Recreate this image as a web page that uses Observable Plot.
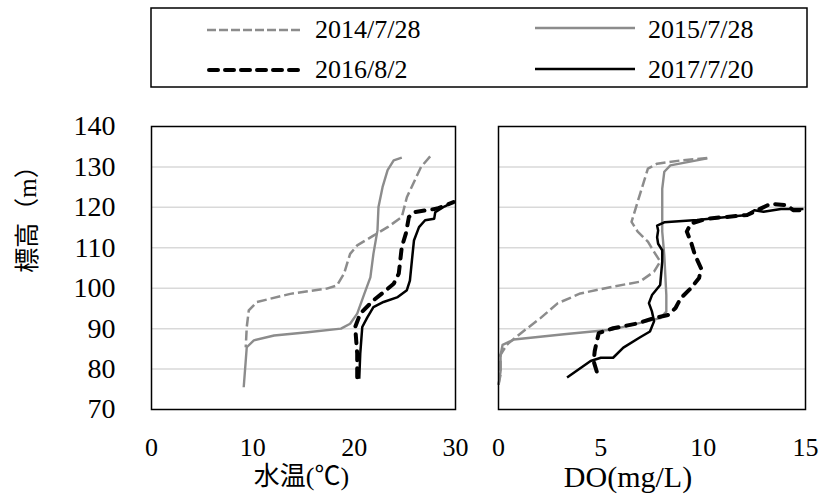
<!DOCTYPE html>
<html><head><meta charset="utf-8">
<script src="https://cdn.jsdelivr.net/npm/d3@7"></script>
<script src="https://cdn.jsdelivr.net/npm/@observablehq/plot@0.6"></script>
<style>
html,body{margin:0;padding:0;background:#fff;}
#wrap{position:relative;width:821px;height:500px;overflow:hidden;}
#legend{position:absolute;left:0;top:0;}
#left{position:absolute;left:0;top:100px;}
#right{position:absolute;left:470px;top:100px;}
svg{overflow:visible;}
#wrap svg, #wrap svg text, #wrap svg g {font-family:"Liberation Serif","Noto Sans CJK JP",serif !important;}
</style>
</head><body>
<div id="wrap"><div id="legend"></div><div id="left"></div><div id="right"></div></div>
<script>
// ---- data ----
const seriesLabels = ["2014/7/28", "2015/7/28", "2016/8/2", "2017/7/20"];
const yTicks = [70, 80, 90, 100, 110, 120, 130, 140];
const yGrid = [80, 90, 100, 110, 120, 130];
const tempTicks = [0, 10, 20, 30];
const doTicks = [0, 5, 10, 15];
const xTitleTemp = "水温(℃)";
const xTitleDO = "DO(mg/L)";
const yTitle = "標高（m）";

// water temperature [°C, elevation m]
const wt2014 = [[27.5,132.6],[26.6,130],[25.2,122.5],[24.7,117.6],[23.3,115.1],[21.9,113],[20.3,110.6],[19.6,108.5],[19.0,103.6],[18.3,100.7],[17.3,99.9],[13.7,98.6],[10.4,96.6],[9.6,94.5],[9.4,90.4],[9.3,85.4]];
const wt2015 = [[24.7,132.3],[23.9,131.6],[23.3,129.2],[22.8,125],[22.4,120.1],[22.3,114.3],[21.9,108.5],[21.6,102.7],[21.0,98.6],[20.3,93.7],[19.6,91.2],[18.7,90],[15.4,89.1],[12.1,88.3],[10.1,87.1],[9.4,85.4],[9.3,82.1],[9.1,75.5]];
const wt2016 = [[20.3,78],[20.3,83.8],[20.1,90.4],[20.6,93.7],[21.9,97],[22.9,99],[23.9,101.1],[24.4,103.6],[24.7,110.2],[25.1,113.5],[25.4,117.6],[25.9,118.8],[27.2,119.3],[28.2,119.7],[29.8,121.3]];
const wt2017 = [[20.5,77.6],[20.6,83.8],[20.8,90.4],[21.3,92.8],[21.9,95.3],[22.9,96.6],[24.3,97.8],[25.2,99.5],[25.5,101.9],[25.7,106.9],[25.9,111.8],[26.4,115.1],[27.0,116.8],[27.9,117.2],[28.0,118.8],[28.9,120.2],[29.8,121.3]];

// dissolved oxygen [mg/L, elevation m]
const do2014 = [[10.2,132.2],[8.9,131.6],[7.75,130.8],[7.3,129.6],[7.1,126.3],[6.8,121.4],[6.5,116.4],[6.8,114],[7.3,111.5],[7.6,109],[7.9,106.6],[7.6,104.1],[6.9,101.6],[5.6,100.4],[4.0,98.7],[2.9,96.3],[2.05,92.6],[1.2,89.3],[0.4,86],[0.1,83.5],[0.1,78.6],[0,76.1]];
const do2015 = [[10.2,132.1],[8.4,130.4],[8.1,128.8],[8.0,124.6],[8.0,119.7],[8.0,114],[8.1,108.2],[8.15,103.3],[8.2,98.3],[8.2,94.2],[7.9,92.6],[5.6,89.8],[3.2,88.6],[0.75,87.3],[0.2,86],[0.1,83.5],[0.1,79.4],[0,76.1]];
const do2016 = [[4.8,79.4],[4.65,81.9],[4.7,84.4],[4.8,86.8],[4.9,88.9],[5.6,90.1],[6.8,91.3],[7.6,92.6],[8.3,93.4],[8.65,95.1],[8.9,97.5],[9.4,100],[9.8,102.5],[9.9,104.9],[9.6,108.2],[9.4,111.5],[9.2,114],[9.4,116],[10.2,117.2],[12.15,118.1],[13.3,120.9],[14.1,120.5],[14.4,119.3],[14.9,119.3]];
const do2017 = [[3.35,77.9],[4.5,82],[5.0,82.8],[5.6,82.8],[6.1,85.3],[6.9,87.8],[7.4,89.3],[7.6,91.8],[7.5,94.2],[7.35,96.3],[7.5,98.3],[7.9,100.8],[8.0,106.6],[8.0,109.4],[7.8,111],[7.75,112.6],[7.8,114.3],[7.75,115.5],[8.1,116.3],[9.7,116.9],[12.15,118.1],[12.5,119.3],[12.95,118.9],[13.8,119.6],[14.9,119.6]];

// ---- styles ----
const styles = [
  {stroke: "#8c8c8c", strokeWidth: 2.5, strokeDasharray: "10,4", strokeLinecap: "butt"},
  {stroke: "#8c8c8c", strokeWidth: 2.4, strokeDasharray: null, strokeLinecap: "butt"},
  {stroke: "#000", strokeWidth: 4, strokeDasharray: "9,8", strokeLinecap: "round"},
  {stroke: "#000", strokeWidth: 2.5, strokeDasharray: null, strokeLinecap: "butt"}
];
const serif = "Liberation Serif, Noto Sans CJK JP, serif";

function lineMarks(sets) {
  return sets.map((d, i) => Plot.line(d, {x: "0", y: "1", curve: "linear", strokeLinejoin: "round", ...Object.fromEntries(Object.entries(styles[i]).filter(([k, v]) => v != null))}));
}

const common = {
  height: 400, marginTop: 26, marginBottom: 91,
  y: {domain: [70, 140]},
  style: {fontFamily: serif, color: "#000", background: "transparent", overflow: "visible"}
};

const left = Plot.plot({
  ...common,
  width: 470, marginLeft: 151, marginRight: 15,
  x: {domain: [0, 30]},
  marks: [
    Plot.gridY(yGrid, {stroke: "#d9d9d9", strokeOpacity: 1, strokeWidth: 1.5}),
    Plot.axisY(yTicks, {tickSize: 0, tickPadding: 36, fontSize: 28, label: null}),
    Plot.axisX(tempTicks, {tickSize: 0, tickPadding: 28, fontSize: 26, label: null}),
    ...lineMarks([wt2014, wt2015, wt2016, wt2017]),
    Plot.frame({stroke: "#000", strokeWidth: 1.5}),
    Plot.text([xTitleTemp], {text: d => d, frameAnchor: "bottom", textAnchor: "middle", lineAnchor: "middle", dx: -2, dy: 67, fontSize: 26, fill: "#000"}),
    Plot.text([yTitle], {text: d => d, frameAnchor: "left", textAnchor: "middle", lineAnchor: "middle", rotate: -90, dx: -124, dy: -55, fontSize: 25, fill: "#000"})
  ]
});
document.getElementById("left").appendChild(left);

const right = Plot.plot({
  ...common,
  width: 351, marginLeft: 28, marginRight: 16,
  x: {domain: [0, 15]},
  y: {domain: [70, 140], axis: null},
  marks: [
    Plot.gridY(yGrid, {stroke: "#d9d9d9", strokeOpacity: 1, strokeWidth: 1.5}),
    Plot.axisX(doTicks, {tickSize: 0, tickPadding: 28, fontSize: 26, label: null}),
    ...lineMarks([do2014, do2015, do2016, do2017]),
    Plot.frame({stroke: "#000", strokeWidth: 1.5}),
    Plot.text([xTitleDO], {text: d => d, frameAnchor: "bottom", textAnchor: "middle", lineAnchor: "middle", dx: -24, dy: 68, fontSize: 30, fill: "#000"})
  ]
});
document.getElementById("right").appendChild(right);

// ---- legend ----
const lg = d3.select("#legend").append("svg").attr("width", 821).attr("height", 95);
lg.append("rect").attr("x", 151).attr("y", 8).attr("width", 656).attr("height", 79)
  .attr("fill", "#fff").attr("stroke", "#000").attr("stroke-width", 1.5);
const legendDash = ["9,3", null, "9,7", null];
const pos = [{x0: 207, x1: 303, tx: 315, y: 30}, {x0: 535, x1: 635, tx: 648, y: 28},
             {x0: 209, x1: 301, tx: 315, y: 70}, {x0: 535, x1: 635, tx: 648, y: 69}];
seriesLabels.forEach((lab, i) => {
  const p = pos[i], s = styles[i];
  lg.append("line").attr("x1", p.x0).attr("x2", p.x1).attr("y1", p.y).attr("y2", p.y)
    .attr("stroke", s.stroke).attr("stroke-width", s.strokeWidth)
    .attr("stroke-dasharray", legendDash[i]).attr("stroke-linecap", s.strokeLinecap);
  lg.append("text").attr("x", p.tx).attr("y", i < 2 ? 38 : 78).text(lab)
    .attr("font-size", 26).attr("fill", "#000");
});
</script>
</body></html>
